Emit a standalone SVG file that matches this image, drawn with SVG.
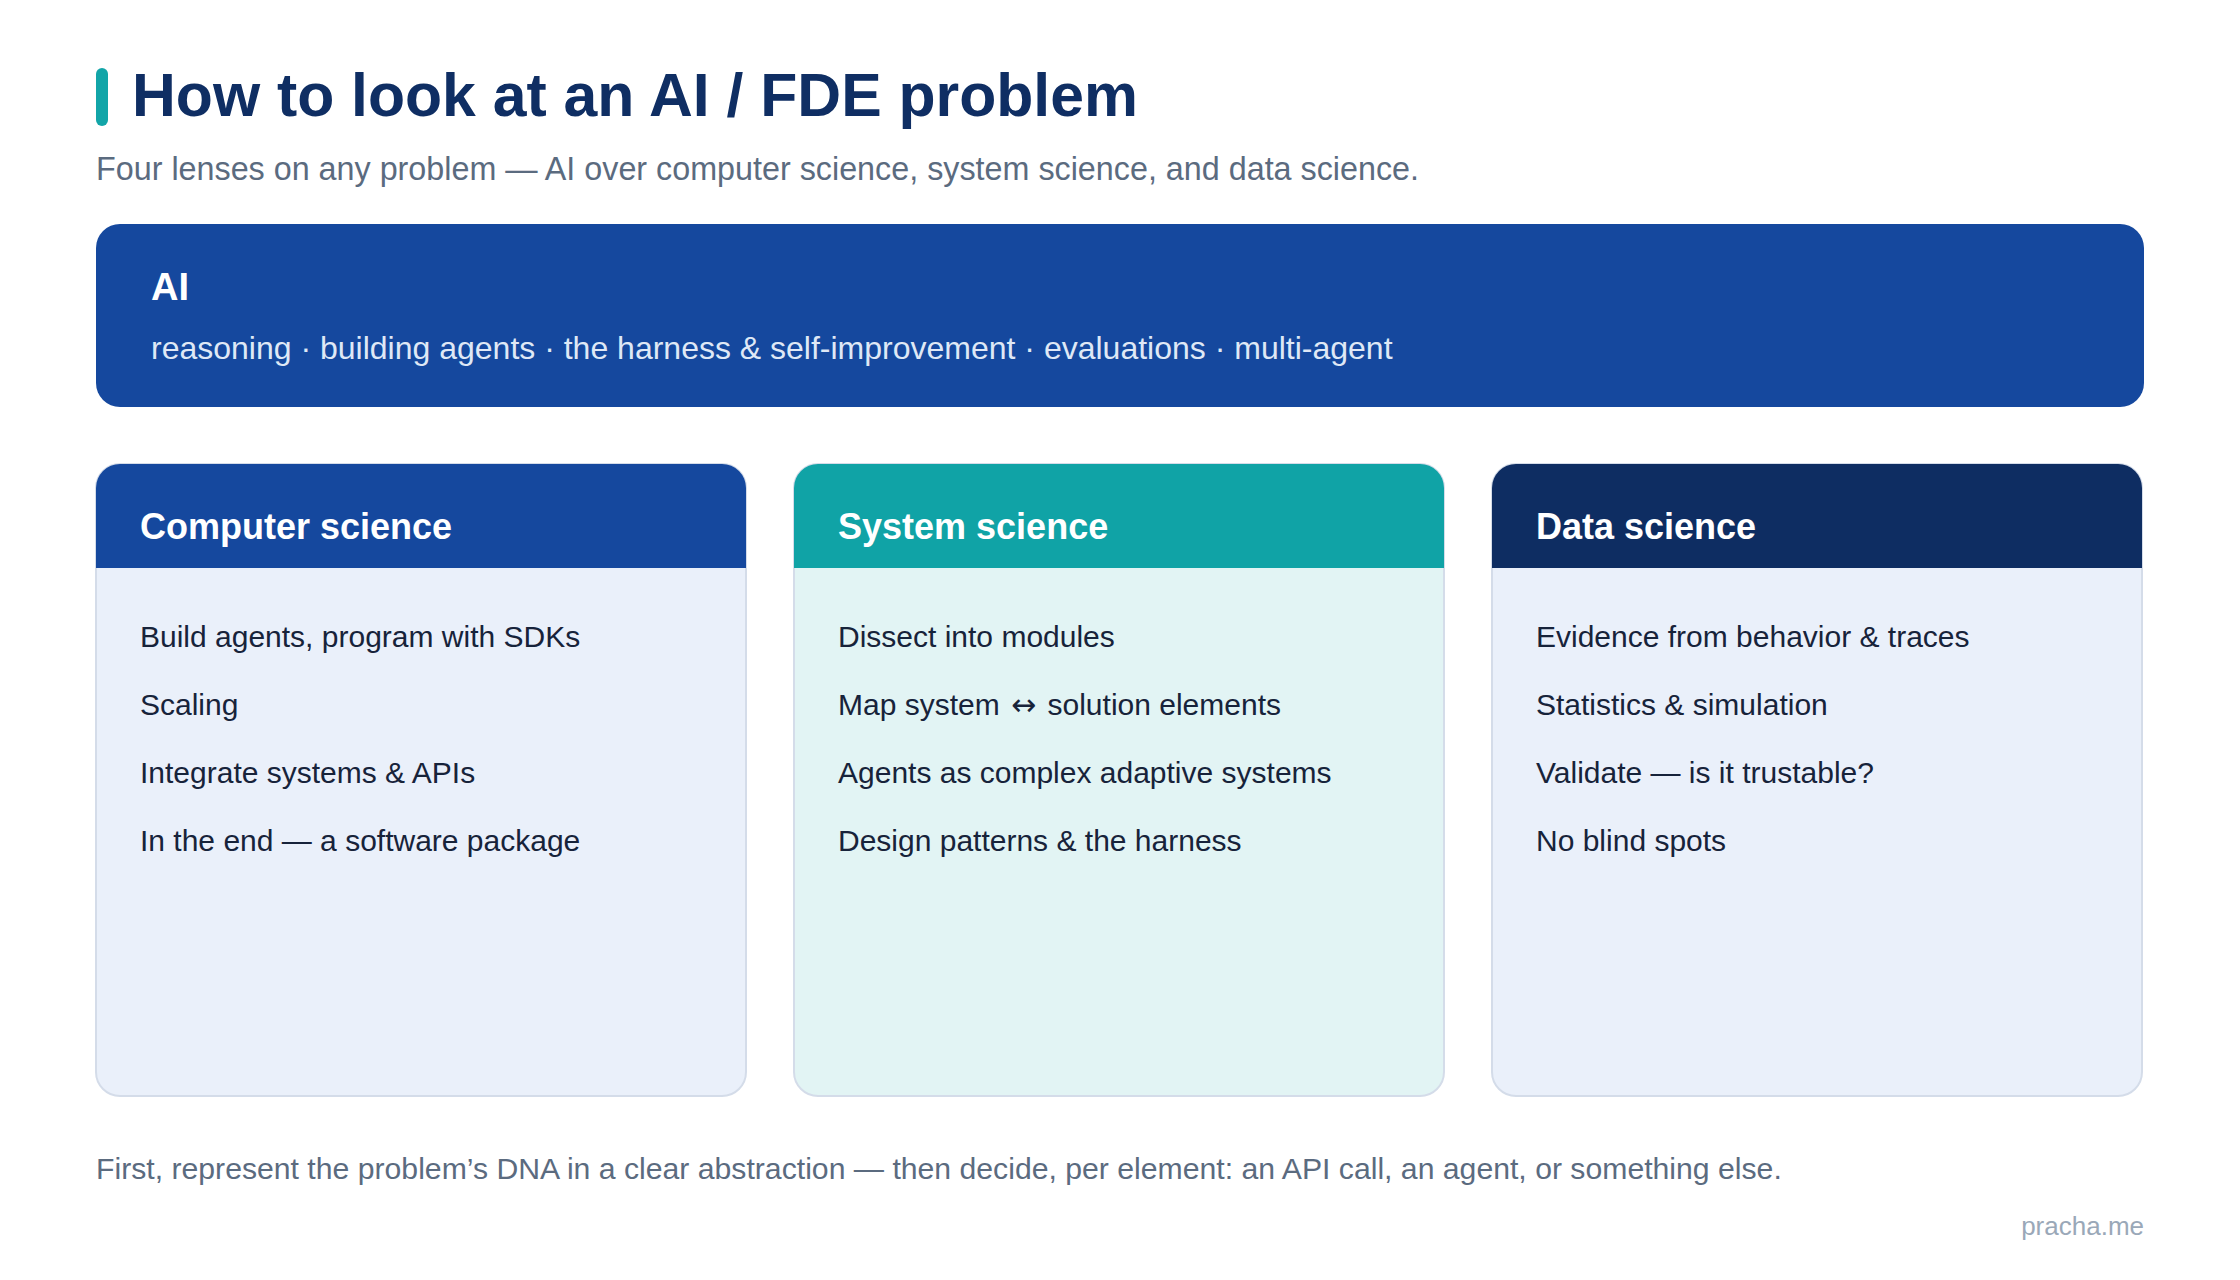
<svg xmlns="http://www.w3.org/2000/svg" width="2240" height="1280" viewBox="0 0 2240 1280">
<style>
  text { font-family: "Liberation Sans", Arial, sans-serif; }
  .title { font-size: 60.7px; font-weight: bold; fill: #0f2e63; }
  .sub { font-size: 32.3px; fill: #5b6b7f; }
  .ai-h { font-size: 38px; font-weight: bold; fill: #ffffff; }
  .ai-t { font-size: 32px; fill: #dfe8f6; }
  .hdr { font-size: 36px; font-weight: bold; fill: #ffffff; }
  .item { font-size: 30px; fill: #17233a; }
  .card { stroke: #d4dce9; stroke-width: 2; }
  .foot { font-size: 30.2px; fill: #5b6b7f; }
  .brand { font-size: 26px; fill: #9aa8b8; }
  .arr { font-family: "DejaVu Sans", sans-serif; font-size: 30px; }
</style>
<rect width="2240" height="1280" fill="#ffffff"/>
<g id="title">
  <rect x="96" y="68" width="12" height="58" rx="6" fill="#12a5a8"/>
  <text class="title" x="132" y="116">How to look at an AI / FDE problem</text>
  <text class="sub" x="96" y="180">Four lenses on any problem — AI over computer science, system science, and data science.</text>
</g>
<g id="ai">
  <rect x="96" y="224" width="2048" height="183" rx="24" fill="#15489e"/>
  <text class="ai-h" x="151" y="300">AI</text>
  <text class="ai-t" x="151" y="359">reasoning · building agents · the harness &amp; self-improvement · evaluations · multi-agent</text>
</g>
<g id="computer-science">
  <rect class="card" x="96" y="464" width="650" height="632" rx="24" fill="#eaf0fa"/>
  <path d="M96,568 V488 A24,24 0 0 1 120,464 H722 A24,24 0 0 1 746,488 V568 Z" fill="#15489e"/>
  <text class="hdr" x="140" y="539">Computer science</text>
  <text class="item" x="140" y="647">Build agents, program with SDKs</text>
  <text class="item" x="140" y="715">Scaling</text>
  <text class="item" x="140" y="783">Integrate systems &amp; APIs</text>
  <text class="item" x="140" y="851">In the end — a software package</text>
</g>
<g id="system-science">
  <rect class="card" x="794" y="464" width="650" height="632" rx="24" fill="#e2f4f4"/>
  <path d="M794,568 V488 A24,24 0 0 1 818,464 H1420 A24,24 0 0 1 1444,488 V568 Z" fill="#10a3a6"/>
  <text class="hdr" x="838" y="539">System science</text>
  <text class="item" x="838" y="647">Dissect into modules</text>
  <text class="item" x="838" y="715">Map system <tspan class="arr" dx="3">↔</tspan><tspan dx="3"> solution elements</tspan></text>
  <text class="item" x="838" y="783">Agents as complex adaptive systems</text>
  <text class="item" x="838" y="851">Design patterns &amp; the harness</text>
</g>
<g id="data-science">
  <rect class="card" x="1492" y="464" width="650" height="632" rx="24" fill="#eaf0fa"/>
  <path d="M1492,568 V488 A24,24 0 0 1 1516,464 H2118 A24,24 0 0 1 2142,488 V568 Z" fill="#0e2d62"/>
  <text class="hdr" x="1536" y="539">Data science</text>
  <text class="item" x="1536" y="647">Evidence from behavior &amp; traces</text>
  <text class="item" x="1536" y="715">Statistics &amp; simulation</text>
  <text class="item" x="1536" y="783">Validate — is it trustable?</text>
  <text class="item" x="1536" y="851">No blind spots</text>
</g>
<g id="connectors"></g>
<g id="footer">
  <text class="foot" x="96" y="1179">First, represent the problem’s DNA in a clear abstraction — then decide, per element: an API call, an agent, or something else.</text>
  <text class="brand" x="2144" y="1235" text-anchor="end">pracha.me</text>
</g>
</svg>
